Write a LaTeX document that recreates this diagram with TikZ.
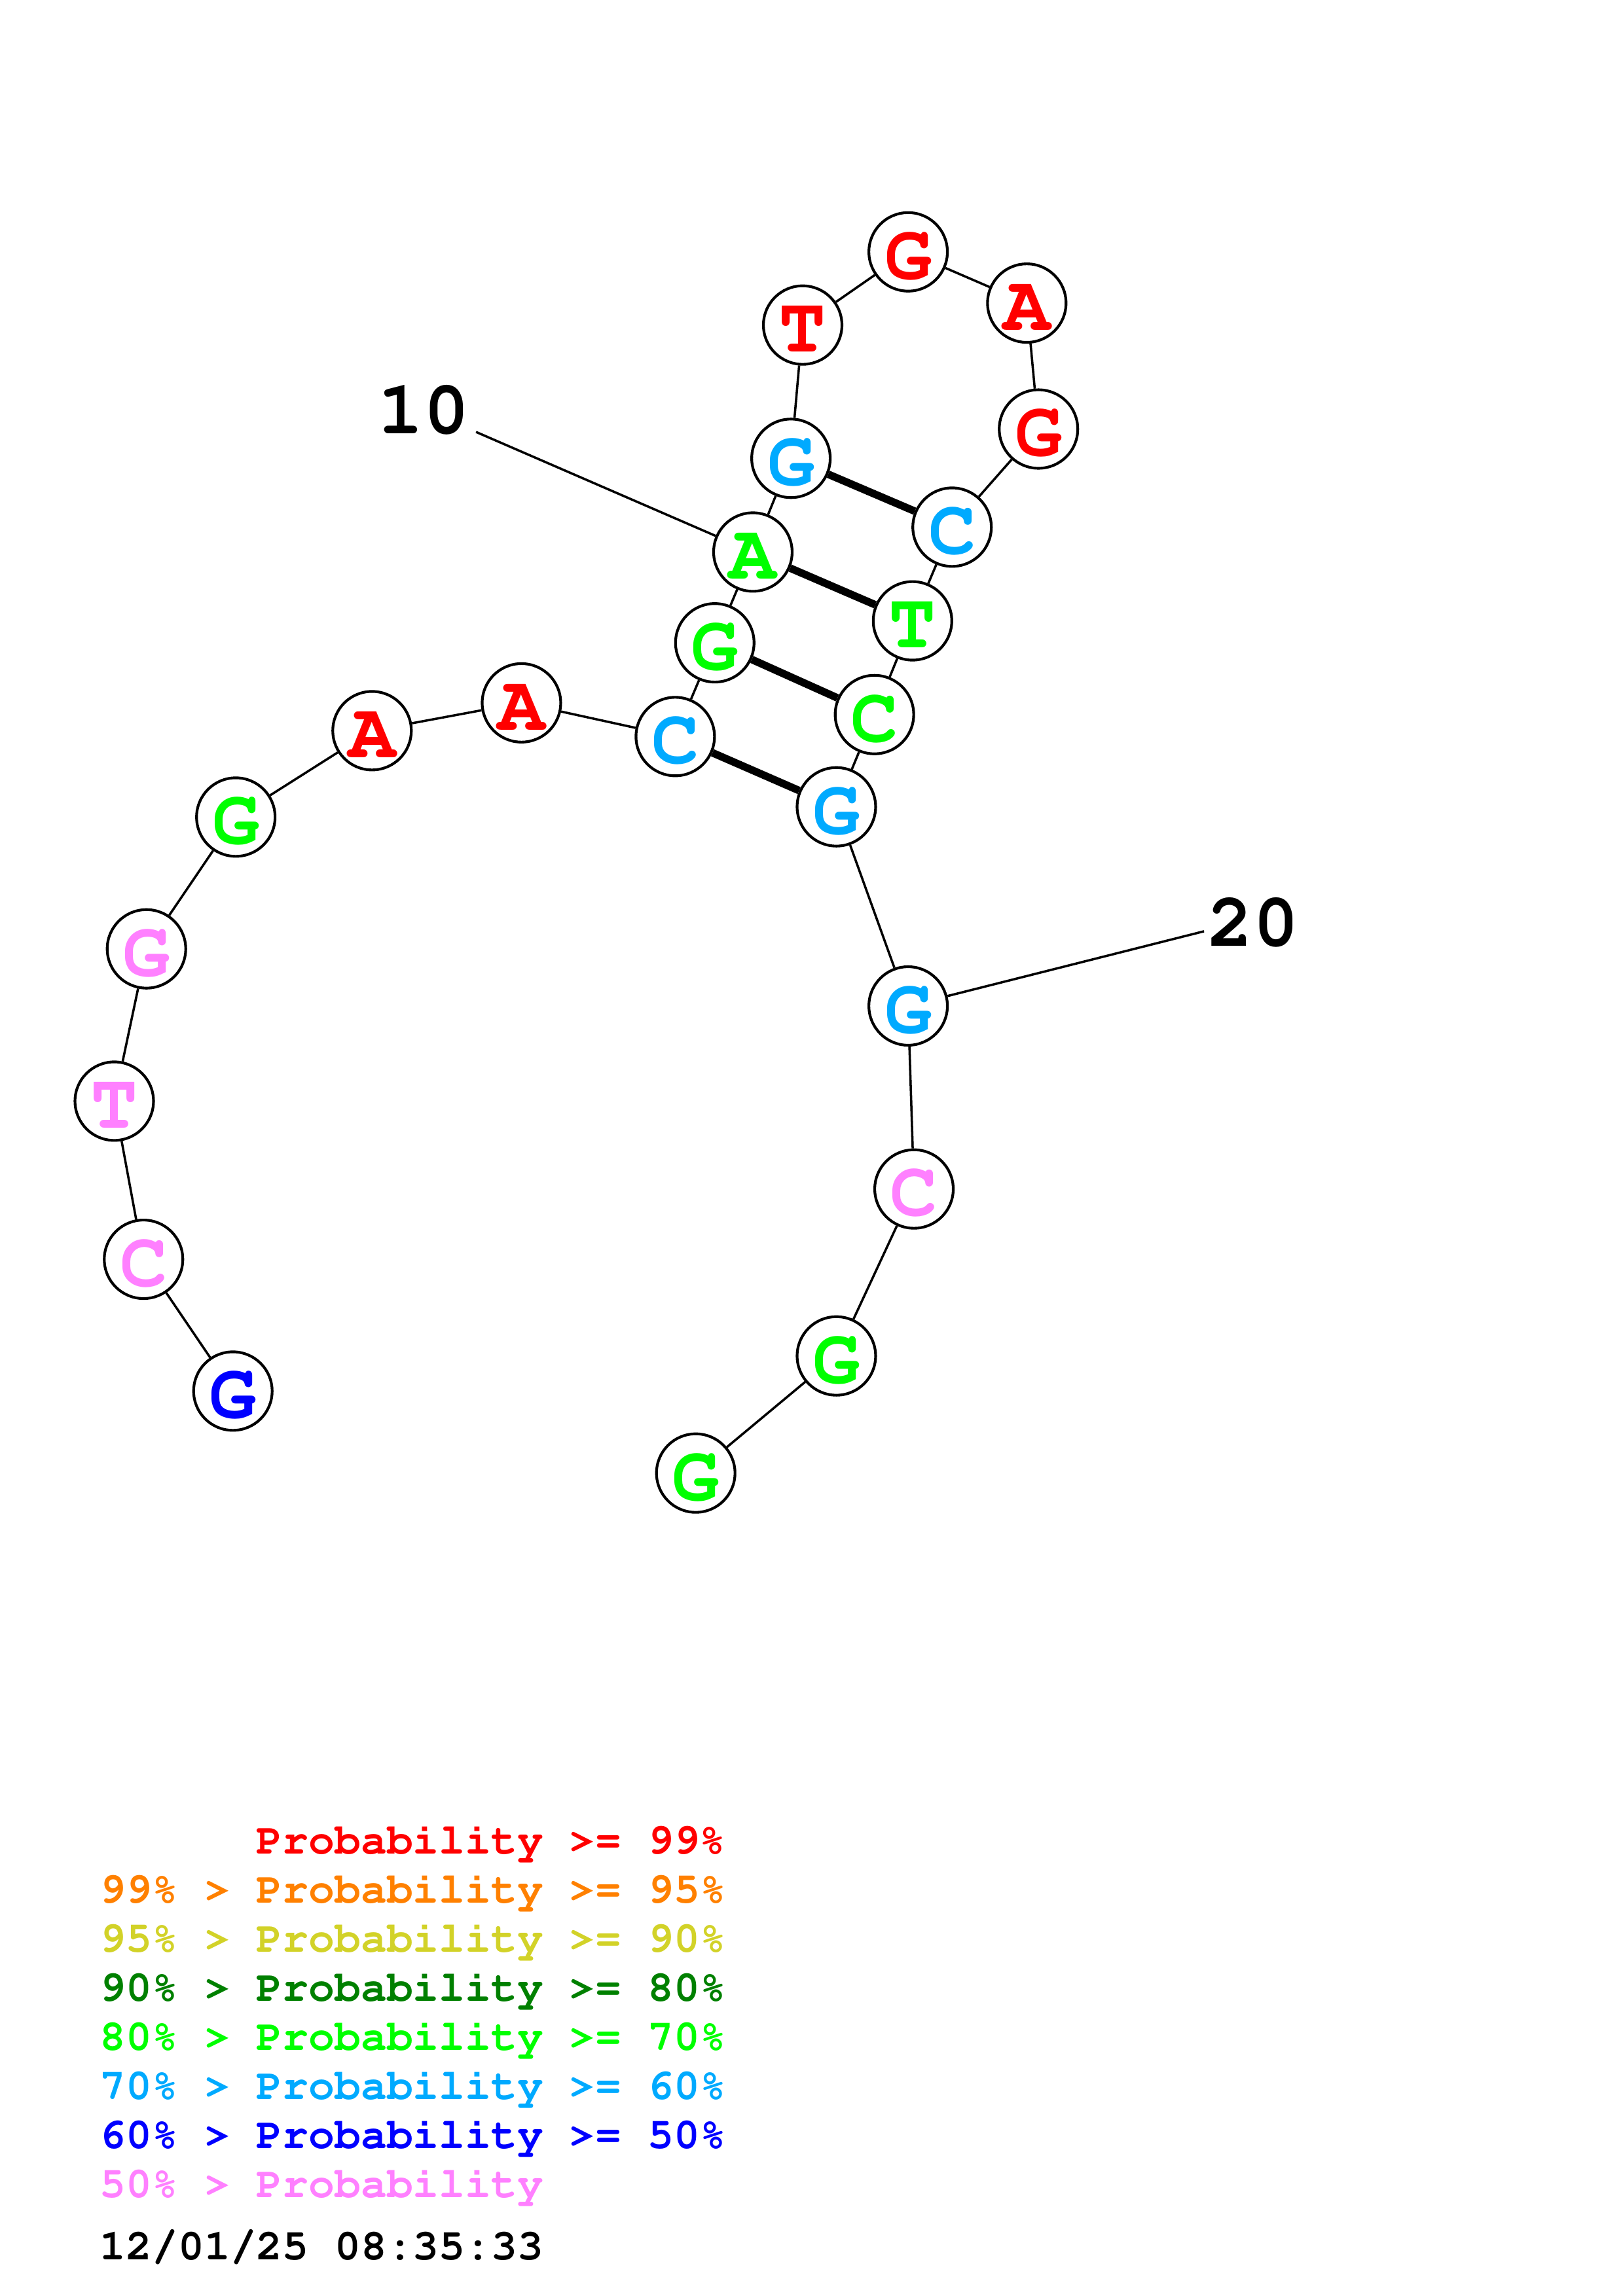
\documentclass[tikz,border=0pt]{standalone}
\usepackage[T1]{fontenc}
\usepackage{courier}
\usepackage{tikz}
\usetikzlibrary{positioning}
\definecolor{probRed}{RGB}{255,0,0}
\definecolor{probOrange}{RGB}{255,128,0}
\definecolor{probYellow}{RGB}{210,210,40}
\definecolor{probDarkGreen}{RGB}{0,128,0}
\definecolor{probGreen}{RGB}{0,255,0}
\definecolor{probLightBlue}{RGB}{0,170,255}
\definecolor{probBlue}{RGB}{0,0,255}
\definecolor{probPink}{RGB}{255,128,255}
\tikzset{
    ntNode/.style={
        circle,
        draw=black,
        fill=white,
        line width=1pt,
        inner sep=0pt,
        minimum size=10.16mm,
        text height=7.0mm,
        text depth=0mm,
        font=\ttfamily\bfseries\fontsize{29}{34}\selectfont
    },
    backbone/.style={line width=0.85pt},
    pairLine/.style={line width=2.8pt},
    numLabel/.style={inner sep=0pt, font=\ttfamily\bfseries\fontsize{28}{34}\selectfont},
    legendLine/.style={anchor=base west, inner sep=0pt, font=\ttfamily\bfseries\fontsize{16}{19}\selectfont}
}

\begin{document}
\begin{tikzpicture}[x=0.18953mm, y=-0.18953mm]
            \useasboundingbox (0,0) rectangle (1108,1568);

            % Nucleotides
            \node[ntNode, text=probBlue]      (n1)  at (159,950)  {G};
            \node[ntNode, text=probPink]      (n2)  at (98,860)   {C};
            \node[ntNode, text=probPink]      (n3)  at (78,752)   {T};
            \node[ntNode, text=probPink]      (n4)  at (100,648)  {G};
            \node[ntNode, text=probGreen]     (n5)  at (161,558)  {G};
            \node[ntNode, text=probRed]       (n6)  at (254,499)  {A};
            \node[ntNode, text=probRed]       (n7)  at (356,480)  {A};
            \node[ntNode, text=probLightBlue] (n8)  at (461,503)  {C};
            \node[ntNode, text=probGreen]     (n9)  at (488,439)  {G};
            \node[ntNode, text=probGreen]     (n10) at (514,377)  {A};
            \node[ntNode, text=probLightBlue] (n11) at (540,313)  {G};
            \node[ntNode, text=probRed]       (n12) at (548,222)  {T};
            \node[ntNode, text=probRed]       (n13) at (620,172)  {G};
            \node[ntNode, text=probRed]       (n14) at (701,207)  {A};
            \node[ntNode, text=probRed]       (n15) at (709,293)  {G};
            \node[ntNode, text=probLightBlue] (n16) at (650,360)  {C};
            \node[ntNode, text=probGreen]     (n17) at (623,424)  {T};
            \node[ntNode, text=probGreen]     (n18) at (597,488)  {C};
            \node[ntNode, text=probLightBlue] (n19) at (571,551)  {G};
            \node[ntNode, text=probLightBlue] (n20) at (620,687)  {G};
            \node[ntNode, text=probPink]      (n21) at (624,812)  {C};
            \node[ntNode, text=probGreen]     (n22) at (571,926)  {G};
            \node[ntNode, text=probGreen]     (n23) at (475,1006) {G};

            % Backbone
            \foreach \i in {1,...,22} {
                \pgfmathtruncatemacro{\j}{\i+1}
                \draw[backbone] (n\i) -- (n\j);
            }

            % Base pairs
            \draw[pairLine] (n11) -- (n16);
            \draw[pairLine] (n10) -- (n17);
            \draw[pairLine] (n9) -- (n18);
            \draw[pairLine] (n8) -- (n19);

            % Position labels
            \coordinate (tick10) at (325,295);
            \coordinate (tick20) at (822,636);
            \node[numLabel, anchor=base east] (lab10) at (321,296) {10};
            \node[numLabel, anchor=base west] (lab20) at (824,646) {20};
            \draw[backbone] (tick10) -- (n10);
            \draw[backbone] (tick20) -- (n20);

            % Legend
            \node[legendLine, text=probRed]       (leg1) at (68,1266)   {\hphantom{99\% > }Probability >= 99\%};
            \node[legendLine, text=probOrange]    (leg2) at (68,1299.5) {99\% > Probability >= 95\%};
            \node[legendLine, text=probYellow]    (leg3) at (68,1333)   {95\% > Probability >= 90\%};
            \node[legendLine, text=probDarkGreen] (leg4) at (68,1366.5) {90\% > Probability >= 80\%};
            \node[legendLine, text=probGreen]     (leg5) at (68,1400)   {80\% > Probability >= 70\%};
            \node[legendLine, text=probLightBlue] (leg6) at (68,1433.5) {70\% > Probability >= 60\%};
            \node[legendLine, text=probBlue]      (leg7) at (68,1467)   {60\% > Probability >= 50\%};
            \node[legendLine, text=probPink]      (leg8) at (68,1500.5) {50\% > Probability};
            \node[legendLine, text=black]         (stamp) at (68,1543)  {12/01/25 08:35:33};
        \end{tikzpicture}
\end{document}
